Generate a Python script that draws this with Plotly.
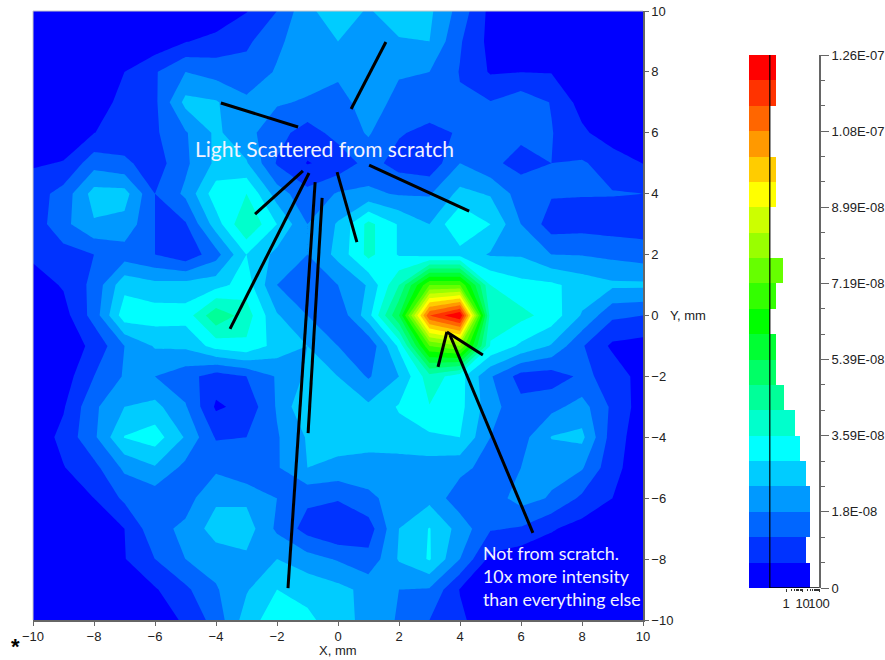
import plotly.graph_objects as go

W, H = 885, 660

# Grid positions, mm
x_mm = list(range(-10, 11))
y_mm = list(range(-10, 11))

row_p10 = [.3,.3,.3,.3,.3,.3,.3,.95,2.0,3.8,4.5,3.9,4.6,4.2,2.6,.7,.3,.3,.3,.3,.3]
row_p9 = [.3,.3,.3,.3,.3,.95,1.3,1.8,2.8,3.6,4.0,3.5,3.9,4.0,2.1,.7,.3,.3,.3,.3,.3]
row_p8 = [.3,.3,.3,1.0,1.9,3.0,2.6,2.4,3.1,3.4,3.2,3.1,3.1,3.0,1.95,.9,.98,.95,.4,.3,.3]
row_p7 = [.3,.3,.6,1.25,1.8,4.3,4.1,3.2,3.1,2.9,2.6,3.5,2.7,2.6,2.1,2.05,2.6,1.95,.6,.3,.3]
row_p6 = [.3,.5,.98,1.4,1.85,2.9,4.2,3.3,2.4,1.5,2.4,3.1,2.1,1.7,2.1,2.1,2.2,2.05,1.2,.4,.3]
row_p5 = [.9,1.05,2.6,2.2,1.5,2.8,4.2,4.1,1.9,.95,1.3,2.4,1.6,1.3,3.0,2.2,1.7,2.0,2.1,1.6,.98]
row_p4 = [1.5,2.4,4.4,4.4,2.0,3.2,5.6,6.0,3.5,2.3,3.1,3.2,2.9,2.9,4.3,3.9,2.5,2.1,2.05,2.05,2.0]
row_p3 = [1.4,2.7,3.9,3.7,2.0,1.9,4.5,7.0,5.0,3.0,4.1,6.3,4.9,4.0,6.0,5.0,3.0,1.5,1.6,1.5,1.5]
row_p2 = [1.2,1.6,2.0,2.5,2.0,1.3,2.6,5.0,3.7,3.0,4.3,6.3,4.9,4.6,4.6,3.9,3.9,3.0,2.95,2.75,2.5]
row_p1 = [.5,1.1,2.3,4.7,4.3,4.4,4.6,5.5,3.0,2.2,3.0,4.1,7,12,12,6.0,5.3,5.2,4.6,4.2,4.2]
row_0 = [.3,.6,2.4,5.6,5.5,5.4,7.8,6.5,4.1,3.0,2.2,4.6,9,19,21,6.5,6.3,5.6,3.9,2.2,2.0]
row_m1 = [.3,.5,1.2,3.0,4.1,4.2,5.4,5.8,4.6,4.0,3.0,2.2,5.2,12,13,5.9,4.8,3.9,2.1,.8,.6]
row_m2 = [.3,.5,2.0,3.1,3.0,2.4,1.5,2.0,3.1,4.2,4.0,2.9,4.0,6.6,5.4,3.1,1.6,1.5,2.2,1.7,.5]
row_m3 = [.3,.9,2.8,4.0,4.3,3.1,.85,1.3,3.1,5.0,5.0,4.2,5.1,5.95,5.3,3.4,2.3,2.7,3.4,1.8,.5]
row_m4 = [.3,1.3,2.8,5.05,5.5,3.9,1.9,2.0,2.9,4.1,4.5,4.5,4.6,4.8,5.0,3.0,2.6,4.05,4.25,1.5,.4]
row_m5 = [.3,.95,1.7,3.2,3.9,2.7,2.8,2.1,2.9,4.0,3.7,3.5,3.5,3.5,3.3,2.6,3.0,3.3,3.1,1.3,.4]
row_m6 = [.3,.4,1.0,2.2,2.4,2.6,3.8,3.8,3.0,2.2,2.1,2.8,3.4,3.7,2.4,2.5,3.4,2.9,1.8,1.0,.3]
row_m7 = [.3,.3,.4,1.0,2.7,3.2,4.5,4.5,2.8,1.6,1.0,1.5,4.0,5.05,3.6,2.1,1.9,1.1,.6,.3,.3]
row_m8 = [.3,.3,.3,.95,2.0,3.0,3.4,3.8,4.0,3.4,2.9,2.3,4.1,5.1,3.0,.7,.3,.3,.3,.3,.3]
row_m9 = [.3,.3,.3,.3,.9,1.8,2.9,3.9,5.0,4.7,4.3,3.7,3.0,2.9,.95,.3,.3,.3,.3,.3,.3]
row_m10 = [.3,.3,.3,.3,.3,1.2,2.4,4.5,5.6,5.2,4.5,3.6,2.9,2.0,1.2,.3,.3,.3,.3,.3,.3]

z_rows = [row_m10, row_m9, row_m8, row_m7, row_m6, row_m5, row_m4, row_m3, row_m2, row_m1, row_0,
          row_p1, row_p2, row_p3, row_p4, row_p5, row_p6, row_p7, row_p8, row_p9, row_p10]

band_colors = [
    "#0000ff", "#0033ff", "#0066ff", "#0099ff", "#00ccff", "#00ffff", "#00ffcc",
    "#00ff99", "#00ff66", "#00ff33", "#00ff00", "#33ff00", "#66ff00", "#99ff00",
    "#ccff00", "#ffff00", "#ffcc00", "#ff9900", "#ff6600", "#ff3300", "#ff0000",
]

# Histogram beside the colour scale, log-count per band, bottom to top
hist_counts = [27, 16, 27, 27, 16, 6.7, 3.3, .72, .24, .24, .1, .24, .6, .1, .1, .24, .24, .1, .1, .24, .24]
band_size = 6e-9
scale_left = 10 ** -2.27

scale_tick_vals = [0, 1.8e-8, 3.6e-8, 5.4e-8, 7.2e-8, 9.0e-8, 1.08e-7, 1.26e-7]
scale_tick_text = ["0", "1.8E-08", "3.59E-08", "5.39E-08", "7.19E-08", "8.99E-08", "1.08E-07", "1.26E-07"]
map_ticks = [-10, -8, -6, -4, -2, 0, 2, 4, 6, 8, 10]

# Pointer strokes drawn over the map, mm: (x0, y0, x1, y1)
pointers = [
    (-3.84, 6.98, -1.31, 6.19),
    (1.57, 8.98, .43, 6.78),
    (-1.15, 4.75, -2.72, 3.33),
    (-.95, 4.68, -3.54, -.44),
    (-.75, 4.38, -1.64, -8.95),
    (-.52, 3.86, -.98, -3.86),
    (-.03, 4.71, .62, 2.41),
    (1.02, 4.94, 4.30, 3.43),
    (3.57, -.54, 3.28, -1.69),
    (3.57, -.54, 4.75, -1.30),
    (3.67, -.64, 6.39, -7.14),
]

n = len(band_colors)
colorscale = []
for i, c in enumerate(band_colors):
    colorscale += [[i / n, c], [(i + 1) / n, c]]

fig = go.Figure()
fig.add_trace(go.Contour(
    x=x_mm, y=y_mm, z=z_rows, xaxis="x", yaxis="y",
    autocontour=False,
    contours=dict(start=1, end=20, size=1, coloring="fill", showlines=False),
    colorscale=colorscale, showscale=False, line=dict(width=0, smoothing=0),
    hoverinfo="skip",
))
for x0, y0, x1, y1 in pointers:
    fig.add_trace(go.Scatter(x=[x0, x1], y=[y0, y1], mode="lines", xaxis="x", yaxis="y",
                             line=dict(color="black", width=3), showlegend=False, hoverinfo="skip"))

fig.add_trace(go.Bar(
    x=[c - scale_left for c in hist_counts],
    y=[(i + .5) * band_size for i in range(n)],
    base=scale_left, orientation="h", width=band_size,
    marker=dict(color=band_colors, line=dict(width=0)),
    xaxis="x2", yaxis="y2", showlegend=False, hoverinfo="skip",
))
fig.add_trace(go.Scatter(x=[.1, .1], y=[0, n * band_size], mode="lines", xaxis="x2", yaxis="y2",
                         line=dict(color="black", width=1.2), showlegend=False, hoverinfo="skip"))
fig.add_trace(go.Scatter(x=[.1, 100], y=[0, 0], mode="lines", xaxis="x2", yaxis="y2", cliponaxis=False,
                         line=dict(color="black", width=1.5), showlegend=False, hoverinfo="skip"))

tick_font = dict(family="Liberation Sans, Arial, sans-serif", size=13, color="#222222")
axis_gray = "#666666"
frame_gray = "#c8c8c8"
note_color = "#f2f2ff"
note_font = "Lato, Open Sans, sans-serif"

def px_x(p):
    return p / W

def px_y(p):
    return 1 - p / H

fig.update_layout(
    width=W, height=H, margin=dict(l=0, r=0, t=0, b=0, autoexpand=False),
    paper_bgcolor="white", plot_bgcolor="white", showlegend=False, bargap=0,
    xaxis=dict(domain=[px_x(33), px_x(643)], range=[-10, 10], tickvals=map_ticks, ticks="outside",
               ticklen=4, tickcolor=axis_gray, showline=True, linecolor=axis_gray, linewidth=1.5,
               mirror=False, showgrid=False, zeroline=False, tickfont=tick_font, anchor="y"),
    yaxis=dict(domain=[px_y(620), px_y(11)], range=[-10, 10], tickvals=map_ticks, ticks="outside",
               ticklen=4, tickcolor=axis_gray, showline=True, linecolor=axis_gray, linewidth=1.5,
               side="right", showgrid=False, zeroline=False, tickfont=tick_font, anchor="x"),
    xaxis2=dict(domain=[px_x(749), px_x(819)], type="log", range=[-2.27, 2], tickvals=[1, 10, 100],
                ticktext=["1", "10", "100"], tickangle=0, ticks="outside", ticklen=3, tickcolor="#333333",
                minor=dict(tickvals=[2, 3, 4, 5, 6, 7, 8, 9, 20, 30, 40, 50, 60, 70, 80, 90],
                           ticks="outside", ticklen=2, tickcolor="#333333"),
                showline=False, showgrid=False, zeroline=False, tickfont=tick_font, anchor="y2"),
    yaxis2=dict(domain=[px_y(588), px_y(55)], range=[0, n * band_size], side="right", tickvals=scale_tick_vals,
                ticktext=scale_tick_text, ticks="outside", ticklen=8, tickcolor=axis_gray,
                minor=dict(tickvals=[i * band_size for i in range(n + 1)], ticks="outside", ticklen=4,
                           tickcolor=axis_gray),
                showline=True, linecolor=axis_gray, linewidth=2, showgrid=False, zeroline=False,
                tickfont=tick_font, anchor="x2"),
    shapes=[
        dict(type="line", xref="x domain", yref="y domain", x0=0, x1=0, y0=0, y1=1,
             line=dict(color=frame_gray, width=1)),
        dict(type="line", xref="x domain", yref="y domain", x0=0, x1=1, y0=1, y1=1,
             line=dict(color=frame_gray, width=1)),
    ],
    annotations=[
        dict(text="Light Scattered from scratch", x=px_x(193), y=px_y(148), xref="paper", yref="paper",
             xanchor="left", yanchor="middle", showarrow=False, font=dict(family=note_font, size=21, color=note_color)),
        dict(text="Not from scratch.", x=px_x(481), y=px_y(553), xref="paper", yref="paper",
             xanchor="left", yanchor="middle", showarrow=False, font=dict(family=note_font, size=17.8, color=note_color)),
        dict(text="10x more intensity", x=px_x(481), y=px_y(576), xref="paper", yref="paper",
             xanchor="left", yanchor="middle", showarrow=False, font=dict(family=note_font, size=17.8, color=note_color)),
        dict(text="than everything else", x=px_x(481), y=px_y(599), xref="paper", yref="paper",
             xanchor="left", yanchor="middle", showarrow=False, font=dict(family=note_font, size=17.8, color=note_color)),
        dict(text="X, mm", x=px_x(338), y=px_y(650), xref="paper", yref="paper", xanchor="center",
             yanchor="middle", showarrow=False, font=tick_font),
        dict(text="Y, mm", x=px_x(668), y=px_y(315), xref="paper", yref="paper", xanchor="left",
             yanchor="middle", showarrow=False, font=tick_font),
        dict(text="*", x=px_x(15), y=px_y(646), xref="paper", yref="paper", xanchor="center",
             yanchor="middle", showarrow=False,
             font=dict(family="Liberation Sans, Arial, sans-serif", size=22, color="black", weight="bold")),
    ],
)

fig.write_html("out.html", config={"displayModeBar": False}, post_script="document.body.style.margin='0';")
